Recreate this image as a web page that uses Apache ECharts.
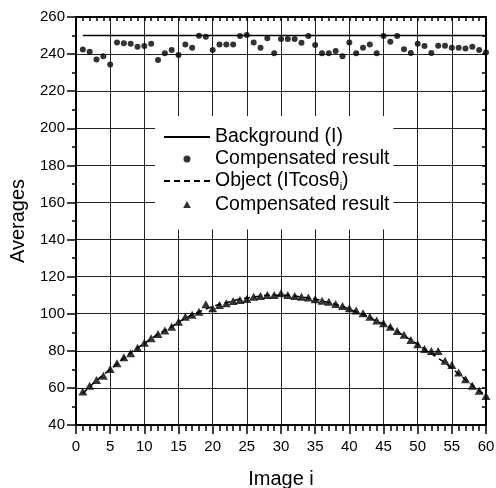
<!DOCTYPE html>
<html>
<head>
<meta charset="utf-8">
<script src="https://cdn.jsdelivr.net/npm/echarts@6/dist/echarts.min.js"></script>
<style>
  html, body { margin: 0; padding: 0; background: #fff; }
  #chart { width: 496px; height: 488px; }
</style>
</head>
<body>
<div id="chart"></div>
<script>
// image index 1..60
const images = [1,2,3,4,5,6,7,8,9,10,11,12,13,14,15,16,17,18,19,20,21,22,23,24,25,26,27,28,29,30,
  31,32,33,34,35,36,37,38,39,40,41,42,43,44,45,46,47,48,49,50,51,52,53,54,55,56,57,58,59,60];

// background level (I)
const bgX = [1, 60];
const bgY = [250, 250];

// compensated background (dots)
const bgComp = [242.5,241.3,237.1,238.9,234.4,246.3,245.8,245.6,244.0,244.4,
  245.6,236.8,240.4,242.2,239.5,245.2,243.4,249.9,249.4,242.2,
  245.2,245.2,245.2,249.7,250.3,246.3,243.4,248.5,240.4,248.1,
  248.1,248.1,246.1,249.7,244.9,240.4,240.4,241.6,238.9,246.3,
  240.4,243.4,245.2,240.4,249.7,246.6,249.7,242.6,240.6,245.6,
  244.4,240.6,244.5,244.5,243.4,243.4,243.0,243.9,242.2,240.8];

// object ITcos(theta_i), dashed curve
const objLine = [57,60.5,64,67,70,73,76,79,81.5,84,
  86.5,89,91,93,95.5,97.5,99.5,101,102.5,104,
  105,106,107,108,108.5,109,109.5,110,110,110,
  110,109.5,109,108.5,108,107,106,105,104,102.5,
  101,99.5,98,96,94.5,92.5,90.5,88,86,83.5,
  81,78.5,76,73.5,70.5,67.5,64.5,61.5,58.5,55.5];

// compensated object (triangles)
const objComp = [58.0,61.2,64.3,66.5,70.2,73.3,76.5,78.7,81.7,84.4,
  86.8,89.1,90.9,93.0,95.7,98.4,99.4,101.1,105.1,102.9,
  104.7,105.6,106.9,107.4,108.0,109.2,109.6,110.1,110.1,111.0,
  110.1,109.6,109.2,108.7,107.8,107.0,106.5,105.3,104.2,103.0,
  101.7,100.3,98.4,96.3,94.9,93.0,90.7,88.6,85.9,83.6,
  81.0,79.9,79.9,74.6,72.4,68.3,64.7,61.1,58.5,55.7];

const legendNames = ['Background (I)', 'Compensated result', 'Object (ITcosθi)', 'Compensated result '];

const font = '"Liberation Sans", Arial, sans-serif';
const chart = echarts.init(document.getElementById('chart'));

const zip = (xs, ys) => xs.map((x, i) => [x, ys[i]]);

const axisLine = { show: true, onZero: false, lineStyle: { color: '#000', width: 2 } };

const option = {
  animation: false,
  backgroundColor: '#fff',
  grid: { left: 76, right: 10, top: 17, bottom: 63, outerBoundsMode: 'none', containLabel: false },
  legend: {
    orient: 'vertical',
    left: 155, top: 116,
    backgroundColor: '#fff',
    padding: [11, 4, 15, 8],
    itemWidth: 46, itemHeight: 7, itemGap: 2,
    textStyle: {
      fontFamily: font, fontSize: 19.5, color: '#000', lineHeight: 20,
      rich: { sub: { fontFamily: font, fontSize: 11, color: '#000', padding: [12, 0, 0, 0] } }
    },
    formatter: name => {
      if (name === legendNames[2]) return 'Object (ITcosθ{sub|i})';
      return name.trim();
    },
    data: [
      { name: legendNames[0], itemStyle: { opacity: 0 } },
      { name: legendNames[1] },
      { name: legendNames[2], itemStyle: { opacity: 0 } },
      { name: legendNames[3], icon: 'path://M5,0L10,9L0,9Z' }
    ]
  },
  xAxis: [
    {
      type: 'value', min: 0, max: 60, interval: 5, position: 'bottom',
      axisLine: axisLine,
      axisTick: { show: true, inside: false, length: 9, lineStyle: { color: '#000', width: 1.5 } },
      minorTick: { show: true, splitNumber: 5, length: 6, lineStyle: { color: '#000', width: 1.5 } },
      axisLabel: { fontFamily: font, fontSize: 15, color: '#000', margin: 14 },
      splitLine: { show: true, lineStyle: { color: '#222', width: 1 } },
      name: 'Image i', nameLocation: 'middle', nameGap: 44,
      nameTextStyle: { fontFamily: font, fontSize: 20, color: '#000' }
    },
    {
      type: 'value', min: 0, max: 60, interval: 5, position: 'top',
      axisLine: axisLine,
      axisTick: { show: true, inside: true, length: 4, lineStyle: { color: '#000', width: 1.5 } },
      minorTick: { show: true, splitNumber: 5, length: 4, lineStyle: { color: '#000', width: 1.5 } },
      axisLabel: { show: false },
      splitLine: { show: false }
    }
  ],
  yAxis: [
    {
      type: 'value', min: 40, max: 260, interval: 20, position: 'left',
      axisLine: axisLine,
      axisTick: { show: true, inside: false, length: 9, lineStyle: { color: '#000', width: 1.5 } },
      minorTick: { show: true, splitNumber: 2, length: 4, lineStyle: { color: '#000', width: 1.5 } },
      axisLabel: { fontFamily: font, fontSize: 15, color: '#000', margin: 11 },
      splitLine: { show: true, lineStyle: { color: '#222', width: 1 } },
      name: 'Averages', nameLocation: 'middle', nameGap: 48,
      nameTextStyle: { fontFamily: font, fontSize: 20, color: '#000' }
    },
    {
      type: 'value', min: 40, max: 260, interval: 20, position: 'right',
      axisLine: axisLine,
      axisTick: { show: true, inside: true, length: 4, lineStyle: { color: '#000', width: 1.5 } },
      minorTick: { show: true, splitNumber: 2, length: 4, lineStyle: { color: '#000', width: 1.5 } },
      axisLabel: { show: false },
      splitLine: { show: false }
    }
  ],
  series: [
    {
      name: legendNames[0], type: 'line', symbol: 'none',
      lineStyle: { color: '#000', width: 1.5 },
      itemStyle: { color: '#000' },
      data: zip(bgX, bgY)
    },
    {
      name: legendNames[1], type: 'scatter', symbol: 'circle', symbolSize: 6,
      itemStyle: { color: '#000' },
      data: zip(images, bgComp)
    },
    {
      name: legendNames[2], type: 'line', symbol: 'none', smooth: true,
      lineStyle: { color: '#000', width: 1.5, type: [6, 4] },
      itemStyle: { color: '#000' },
      data: zip(images, objLine)
    },
    {
      name: legendNames[3], type: 'scatter', symbol: 'triangle', symbolSize: [9, 8],
      itemStyle: { color: '#000' },
      data: zip(images, objComp)
    }
  ]
};

chart.setOption(option);
</script>
</body>
</html>
